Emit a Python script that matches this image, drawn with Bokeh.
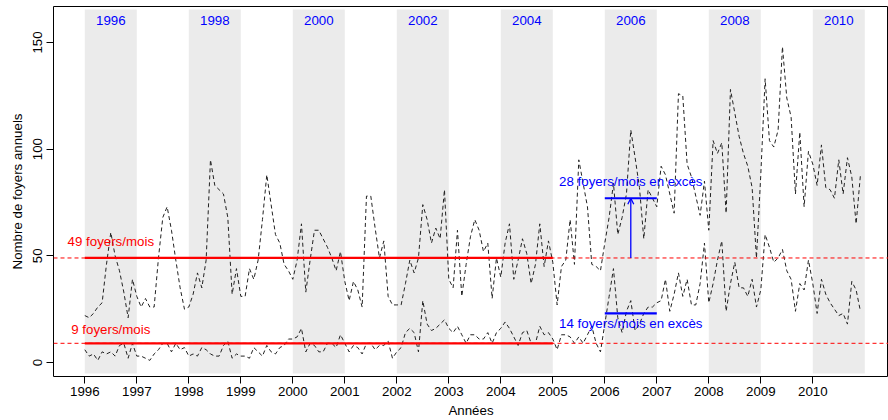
import numpy as np
from bokeh.plotting import figure
from bokeh.models import Span, Arrow, OpenHead, FixedTicker, Range1d
from bokeh.core.properties import value
from bokeh.embed import file_html
from bokeh.resources import INLINE

# ---------------- data ----------------
start_year = 1996
# monthly series (upper): total outbreaks
foyers_total = [
    22, 21, 23, 26, 28, 46, 61, 50, 43, 33, 21, 39,   # 1996
    31, 26, 30, 26, 26, 49, 68, 73, 62, 48, 35, 25,   # 1997
    26, 32, 42, 35, 48, 95, 83, 81, 79, 68, 32, 44,   # 1998
    31, 31, 44, 39, 48, 67, 88, 74, 60, 56, 46, 43,   # 1999
    39, 48, 65, 33, 48, 62, 62, 58, 54, 49, 43, 52,   # 2000
    38, 29, 38, 34, 26, 78, 78, 63, 49, 57, 31, 27,   # 2001
    27, 27, 37, 48, 42, 49, 74, 67, 56, 63, 58, 81,   # 2002
    39, 35, 62, 31, 46, 59, 67, 62, 52, 56, 30, 49,   # 2003
    40, 56, 65, 39, 48, 58, 51, 37, 46, 65, 45, 57,   # 2004
    47, 27, 45, 48, 67, 46, 95, 84, 73, 46, 45, 43,   # 2005
    56, 68, 84, 60, 68, 79, 109, 96, 82, 58, 81, 77,  # 2006
    73, 92, 88, 79, 70, 126, 125, 93, 87, 78, 69, 85, # 2007
    62, 104, 98, 103, 70, 128, 117, 106, 98, 92, 82, 49,  # 2008
    88, 133, 104, 101, 109, 148, 124, 115, 79, 108, 73, 99,  # 2009
    93, 83, 102, 82, 81, 77, 95, 79, 96, 87, 65, 88,  # 2010
]
# monthly series (lower)
foyers_bas = [
    6, 3, 4, 1, 5, 4, 5, 3, 8, 9, 2, 9,        # 1996
    3, 3, 2, 1, 4, 6, 9, 9, 5, 9, 6, 7,        # 1997
    3, 4, 3, 7, 6, 4, 3, 3, 8, 10, 2, 4,       # 1998
    3, 3, 2, 7, 5, 3, 8, 5, 4, 7, 8, 11,       # 1999
    11, 12, 16, 5, 9, 8, 5, 5, 9, 9, 7, 13,    # 2000
    9, 5, 8, 7, 4, 9, 9, 6, 8, 8, 10, 2,       # 2001
    5, 7, 14, 16, 14, 5, 29, 18, 15, 16, 18, 20,  # 2002
    16, 14, 17, 13, 9, 13, 13, 11, 11, 14, 9, 14, # 2003
    16, 19, 16, 12, 8, 14, 15, 9, 9, 17, 13, 14,  # 2004
    11, 6, 13, 13, 12, 9, 12, 9, 13, 17, 9, 5,    # 2005
    18, 31, 44, 21, 14, 24, 29, 15, 18, 23, 26, 26,  # 2006
    28, 29, 39, 24, 32, 42, 31, 39, 27, 27, 37, 56,  # 2007
    28, 37, 48, 57, 24, 37, 47, 35, 35, 31, 39, 26,  # 2008
    34, 60, 54, 47, 49, 53, 43, 39, 24, 37, 34, 48,  # 2009
    37, 23, 39, 32, 28, 25, 22, 23, 18, 38, 34, 24,  # 2010
]
band_years = [1996, 1998, 2000, 2002, 2004, 2006, 2008, 2010]
band_labels = [str(y) for y in band_years]
x_tick_years = list(range(1996, 2011))
y_ticks = [0, 50, 100, 150]

baseline_high = 49
baseline_low = 9
baseline_end = 2005
excess_high = 28
excess_low = 14
excess_start = 2006
excess_end = 2007

months = start_year + np.arange(len(foyers_total)) / 12.0

FONT = "Liberation Sans"
FS = "13.3px"

p = figure(width=888, height=420, output_backend="svg", toolbar_location=None,
           x_range=Range1d(1995.398, 2011.456), y_range=Range1d(-6.56, 166.88),
           min_border_left=53, min_border_right=0, min_border_top=6,
           min_border_bottom=44, background_fill_color="white",
           border_fill_color="white")

p.xgrid.visible = False
p.ygrid.visible = False
p.outline_line_color = "black"
p.outline_line_width = 1

# grey bands for even years
p.quad(left=band_years, right=[y + 1 for y in band_years],
       bottom=-5.2, top=165.5, fill_color="#EBEBEB", line_color=None)

# year labels on bands
p.text(x=[y + 0.5 for y in band_years], y=[160.3] * len(band_years), text=band_labels,
       text_font=value(FONT), text_font_size=value(FS), text_color="#0000FF",
       text_align="center", text_baseline="middle")

# series
p.line(months, foyers_total, line_color="#222222", line_width=1, line_dash="4 3")
p.line(months, foyers_bas, line_color="#222222", line_width=1, line_dash="4 3")

# baseline dashed spans
for b in (baseline_high, baseline_low):
    p.add_layout(Span(location=b, dimension="width", line_color="#FF0000",
                      line_width=1, line_dash="4 3"))

# thick red baselines
p.segment(x0=[start_year, start_year], y0=[baseline_high, baseline_low],
          x1=[baseline_end, baseline_end], y1=[baseline_high, baseline_low],
          line_color="#FF0000", line_width=2.2)

# blue excess lines
hi = baseline_high + excess_high
lo = baseline_low + excess_low
p.segment(x0=[excess_start, excess_start], y0=[hi, lo],
          x1=[excess_end, excess_end], y1=[hi, lo],
          line_color="#0000FF", line_width=2.2)
mid = (excess_start + excess_end) / 2
p.add_layout(Arrow(end=OpenHead(size=6, line_color="#0000FF", line_width=1.3),
                   x_start=mid, y_start=baseline_high, x_end=mid, y_end=hi,
                   line_color="#0000FF", line_width=1.3))

# annotations
p.text(x=[start_year + 0.5, start_year + 0.5], y=[56.5, 15.5],
       text=[f"{baseline_high} foyers/mois", f"{baseline_low} foyers/mois"],
       text_font=value(FONT), text_font_size=value(FS), text_color="#FF0000",
       text_align="center", text_baseline="middle")
p.text(x=[mid, mid], y=[84.9, 18.3],
       text=[f"{excess_high} foyers/mois en excès", f"{excess_low} foyers/mois en excès"],
       text_font=value(FONT), text_font_size=value(FS), text_color="#0000FF",
       text_align="center", text_baseline="middle")

# axes
p.xaxis.ticker = FixedTicker(ticks=x_tick_years)
p.yaxis.ticker = FixedTicker(ticks=y_ticks)
for ax in (p.xaxis, p.yaxis):
    ax.axis_line_color = None
    ax.major_tick_in = 0
    ax.major_tick_out = 7
    ax.minor_tick_out = 0
    ax.minor_tick_in = 0
    ax.major_tick_line_color = "black"
    ax.major_label_text_font = FONT
    ax.major_label_text_font_size = FS
    ax.major_label_text_color = "black"
    ax.axis_label_text_font = FONT
    ax.axis_label_text_font_size = FS
    ax.axis_label_text_font_style = "normal"
    ax.axis_label_text_color = "black"
p.xaxis.axis_label = "Années"
p.yaxis.axis_label = "Nombre de foyers annuels"
p.yaxis.major_label_orientation = "vertical"
p.xaxis.major_label_standoff = 3
p.xaxis.axis_label_standoff = 4
p.yaxis.major_label_standoff = 4
p.yaxis.axis_label_standoff = 6

open("out.html", "w").write(file_html(p, INLINE))
